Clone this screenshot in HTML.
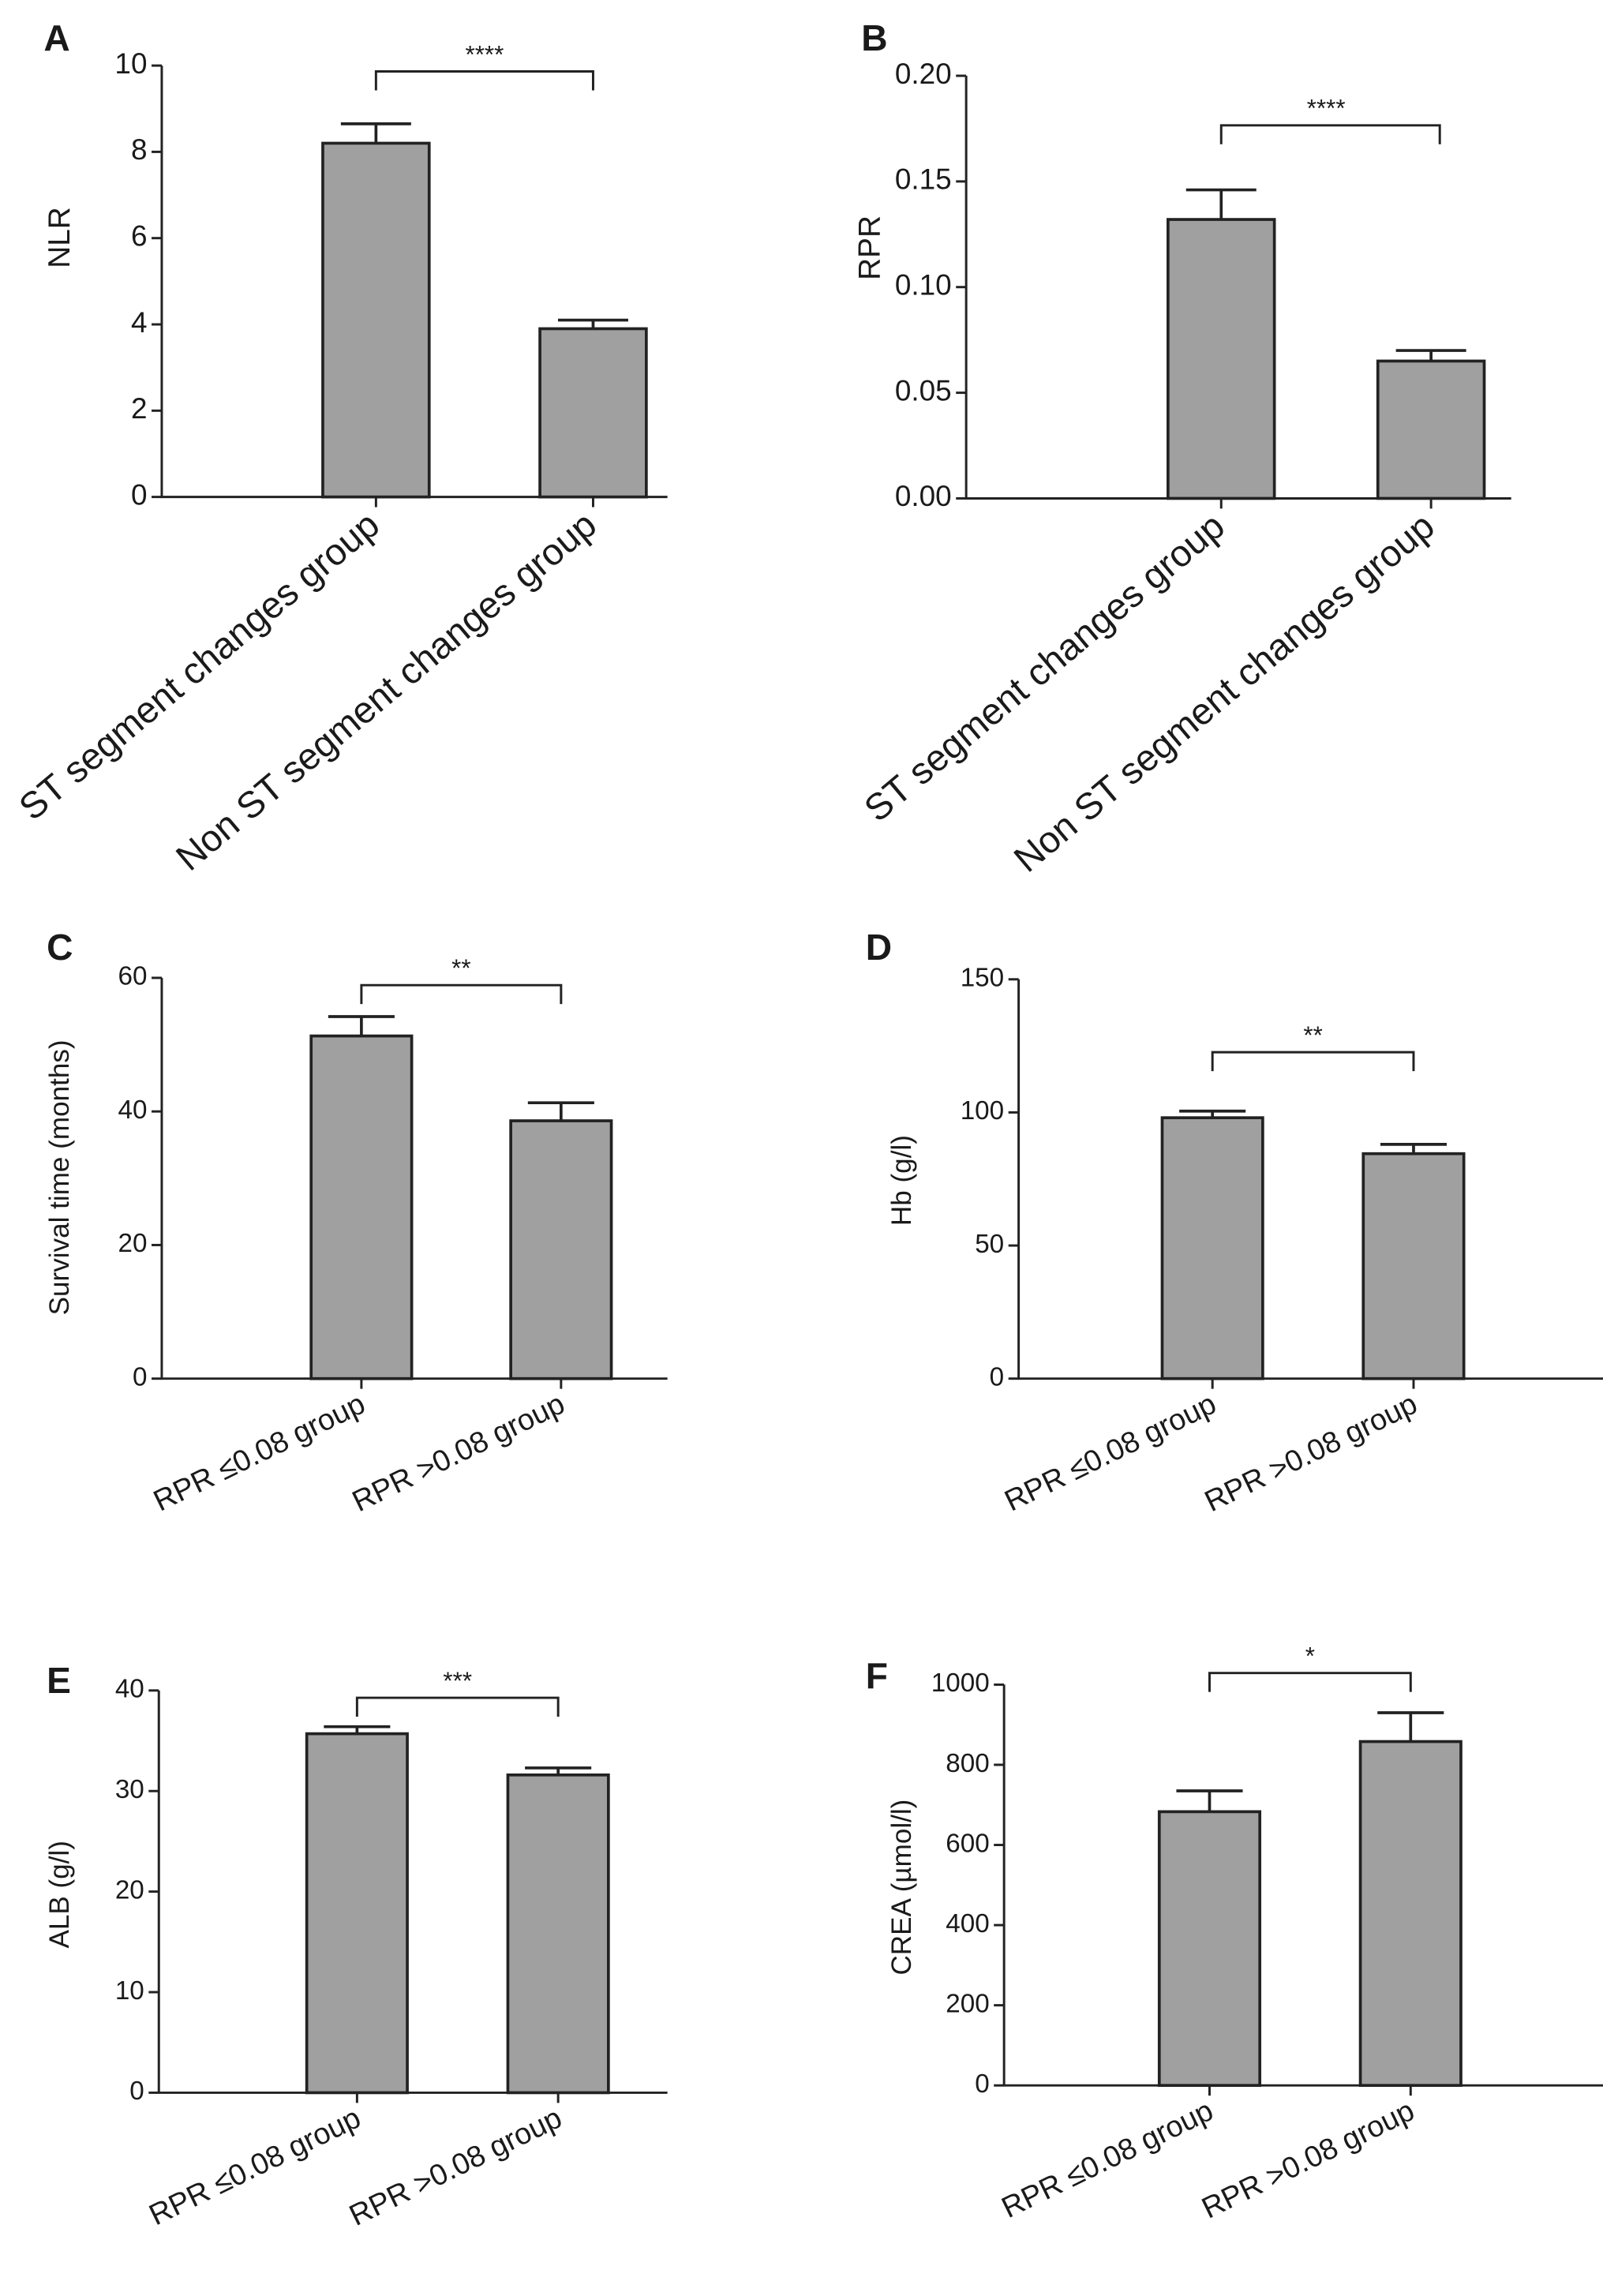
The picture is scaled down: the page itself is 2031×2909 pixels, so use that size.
<!DOCTYPE html>
<html><head><meta charset="utf-8">
<style>
html,body{margin:0;padding:0;background:#fff;}
svg{display:block;}
text{font-family:"Liberation Sans",sans-serif;fill:#1a1a1a;}
</style></head>
<body>
<svg id="fig" width="2031" height="2909" viewBox="0 0 1100 1575.5" preserveAspectRatio="none" xmlns="http://www.w3.org/2000/svg"></svg>
<script>
// ---- data ----
const panelLetters = ["A","B","C","D","E","F"];
const yTitles = ["NLR","RPR","Survival time (months)","Hb (g/l)","ALB (g/l)","CREA (µmol/l)"];
const catsST = ["ST segment changes group","Non ST segment changes group"];
const catsRPR = ["RPR ≤0.08 group","RPR >0.08 group"];
const meansA = [8.2, 3.9];   const errA = [8.65, 4.1];
const meansB = [0.132, 0.065]; const errB = [0.146, 0.070];
const meansC = [51.3, 38.6]; const errC = [54.2, 41.3];
const meansD = [98, 84.5];   const errD = [100.5, 88];
const meansE = [35.7, 31.6]; const errE = [36.4, 32.3];
const meansF = [683, 858];   const errF = [735, 930];
const ticksA = [0,2,4,6,8,10];
const ticksB = [0,0.05,0.10,0.15,0.20];
const ticksC = [0,20,40,60];
const ticksD = [0,50,100,150];
const ticksE = [0,10,20,30,40];
const ticksF = [0,200,400,600,800,1000];
const tickLabB = ["0.00","0.05","0.10","0.15","0.20"];
const sigs = ["****","****","**","**","***","*"];

// ---- layout ----
const layouts = [
 {ax:111,y0:341,yTop:45,xEnd:458,c:[258,407],bw:73,br:49,lx:30,ly:28,tx:42,ty:163,fs:20,cats:catsST,rot:-40,xfs:25.5},
 {ax:663,y0:342,yTop:52,xEnd:1037,c:[838,982],bw:73,br:86,lx:591,ly:28,tx:598,ty:170,fs:20,cats:catsST,rot:-40,xfs:25.5},
 {ax:111,y0:946,yTop:671,xEnd:458,c:[248,385],bw:69,br:676,lx:32,ly:652,tx:42,ty:808,fs:18,cats:catsRPR,rot:-26,xfs:20.5},
 {ax:699,y0:946,yTop:672,xEnd:1100,c:[832,970],bw:69,br:722,lx:594,ly:652,tx:620,ty:810,fs:18,cats:catsRPR,rot:-26,xfs:20.5},
 {ax:109,y0:1436,yTop:1160,xEnd:458,c:[245,383],bw:69,br:1165,lx:32,ly:1155,tx:42,ty:1300,fs:18,cats:catsRPR,rot:-26,xfs:20.5},
 {ax:689,y0:1431,yTop:1156,xEnd:1100,c:[830,968],bw:69,br:1148,lx:594,ly:1152,tx:620,ty:1295,fs:18,cats:catsRPR,rot:-26,xfs:20.5}
];
const means=[meansA,meansB,meansC,meansD,meansE,meansF];
const errs=[errA,errB,errC,errD,errE,errF];
const ticks=[ticksA,ticksB,ticksC,ticksD,ticksE,ticksF];

const svg=document.getElementById('fig');
const NS="http://www.w3.org/2000/svg";
function mk(tag,attrs,parent){const e=document.createElementNS(NS,tag);for(const k in attrs)e.setAttribute(k,attrs[k]);(parent||svg).appendChild(e);return e;}

layouts.forEach((L,p)=>{
  const g=mk('g',{});
  
  
  const tk=ticks[p]; const yMax=tk[tk.length-1];
  const y=v=>L.y0-(v/yMax)*(L.y0-L.yTop);
  const lt=mk('text',{x:L.lx,y:L.ly,'font-size':25,'font-weight':'bold','dominant-baseline':'middle'},g);
  lt.textContent=panelLetters[p];
  
  
  const yt=mk('text',{x:L.tx,y:L.ty,'font-size':L.fs+1,'text-anchor':'middle','dominant-baseline':'middle',transform:`rotate(-90 ${L.tx} ${L.ty})`},g);
  yt.textContent=yTitles[p];
  
  
  means[p].forEach((m,i)=>{
    const cx=L.c[i];
    const eb=mk('path',{d:`M${cx} ${y(m)}V${y(errs[p][i])}M${cx-L.bw*0.33} ${y(errs[p][i])}H${cx+L.bw*0.33}`,stroke:'#222','stroke-width':2,fill:'none'},g);
    
    
    const r=mk('rect',{x:cx-L.bw/2,y:y(m),width:L.bw,height:L.y0-y(m),fill:'#a0a0a0',stroke:'#222','stroke-width':2},g);
    
    
    mk('line',{x1:cx,x2:cx,y1:L.y0,y2:L.y0+7,stroke:'#222','stroke-width':1.6},g);
    const xl=mk('text',{x:cx+4,y:L.y0+22,'font-size':L.xfs,'text-anchor':'end',transform:`rotate(${L.rot} ${cx+4} ${L.y0+22})`},g);
    xl.textContent=L.cats[i];
    
    
  });
  const axes=mk('path',{d:`M${L.ax} ${L.yTop}V${L.y0}H${L.xEnd}`,stroke:'#222','stroke-width':1.6,fill:'none'},g);
  
  
  tk.forEach((v,i)=>{
    mk('line',{x1:L.ax-7,x2:L.ax,y1:y(v),y2:y(v),stroke:'#222','stroke-width':1.6},g);
    const t=mk('text',{x:L.ax-10,y:y(v),'font-size':L.fs,'text-anchor':'end','dominant-baseline':'middle'},g);
    t.textContent=p===1?tickLabB[i]:String(v);
    
    
  });
  const br=mk('path',{d:`M${L.c[0]} ${L.br+13}V${L.br}H${L.c[1]+(p===1?6:0)}V${L.br+13}`,stroke:'#222','stroke-width':1.6,fill:'none'},g);
  
  
  const st=mk('text',{x:(L.c[0]+L.c[1])/2,y:L.br-6,'font-size':17,'text-anchor':'middle'},g);
  st.textContent=sigs[p];
  
  
});
</script>
</body></html>
